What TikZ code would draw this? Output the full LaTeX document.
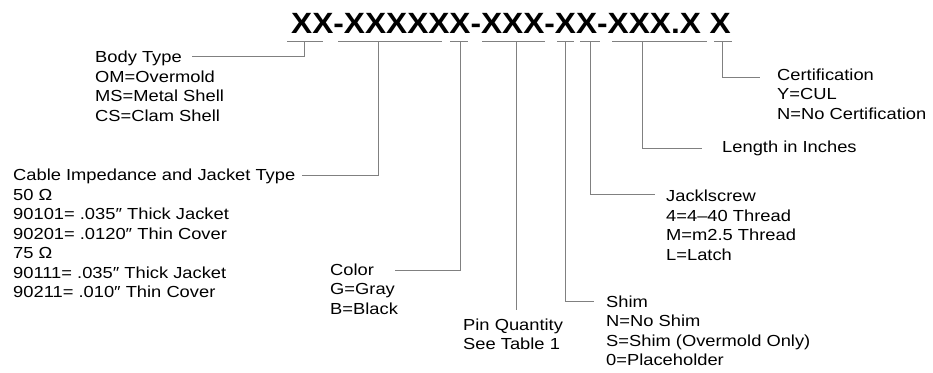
\documentclass[tikz,border=0pt]{standalone}
\usepackage{fontspec}
\setmainfont{Liberation Sans}[FakeStretch=1.145]
\newfontfamily\titlefont{Liberation Sans}[FakeStretch=1.08]
\newcommand{\lbllines}[1]{\begin{tabular}[t]{@{}l@{}}#1\end{tabular}}
\begin{document}
\begin{tikzpicture}[x=1pt,y=-1pt,
  conn/.style={draw=black!50,line width=0.9pt},
  lbl/.style={anchor=base west,inner sep=0pt,font=\fontsize{16}{19.5}\selectfont},
  ttl/.style={anchor=base west,inner sep=0pt,font=\titlefont\bfseries\fontsize{29.3}{32}\selectfont}]
\useasboundingbox (0,0) rectangle (933,372);

% part number
\node[ttl] (title) at (291,33.5) {XX-XXXXXX-XXX-XX-XXX.X X};

% underlines
\draw[conn] (287,41) -- (323,41);
\draw[conn] (338,41) -- (442,41);
\draw[conn] (450,41) -- (468,41);
\draw[conn] (482,41) -- (545,41);
\draw[conn] (557,41) -- (574,41);
\draw[conn] (580,41) -- (600,41);
\draw[conn] (612,41) -- (707,41);
\draw[conn] (714,41) -- (732,41);

% stems
\coordinate (s1) at (304,41);
\coordinate (s2) at (378,41);
\coordinate (s3) at (460,41);
\coordinate (s4) at (516,41);
\coordinate (s5) at (565,41);
\coordinate (s6) at (590,41);
\coordinate (s7) at (642,41);
\coordinate (s8) at (722,41);

% labels
\node[lbl] (body) at (95,62.5) {\lbllines{Body Type\\OM=Overmold\\MS=Metal Shell\\CS=Clam Shell}};
\node[lbl] (cable) at (13,180.5) {\lbllines{Cable Impedance and Jacket Type\\50 Ω\\90101= .035″ Thick Jacket\\90201= .0120″ Thin Cover\\75 Ω\\90111= .035″ Thick Jacket\\90211= .010″ Thin Cover}};
\node[lbl] (color) at (330,275) {\lbllines{Color\\G=Gray\\B=Black}};
\node[lbl] (pins) at (463,330) {\lbllines{Pin Quantity\\See Table 1}};
\node[lbl] (shim) at (606,307) {\lbllines{Shim\\N=No Shim\\S=Shim (Overmold Only)\\0=Placeholder}};
\node[lbl] (jack) at (666,201.5) {\lbllines{Jacklscrew\\4=4–40 Thread\\M=m2.5 Thread\\L=Latch}};
\node[lbl] (len) at (722,152) {Length in Inches};
\node[lbl] (cert) at (777,80) {\lbllines{Certification\\Y=CUL\\N=No Certification}};

% connector ends
\coordinate (e1) at (192,56);
\coordinate (e2) at (302,175);
\coordinate (e3) at (395,270);
\coordinate (e4) at (516,310);
\coordinate (e5) at (594,301);
\coordinate (e6) at (655,194);
\coordinate (e7) at (702,148.5);
\coordinate (e8) at (760,77);

\draw[conn] (s1) |- (e1);
\draw[conn] (s2) |- (e2);
\draw[conn] (s3) |- (e3);
\draw[conn] (s4) -- (e4);
\draw[conn] (s5) |- (e5);
\draw[conn] (s6) |- (e6);
\draw[conn] (s7) |- (e7);
\draw[conn] (s8) |- (e8);
\end{tikzpicture}
\end{document}
